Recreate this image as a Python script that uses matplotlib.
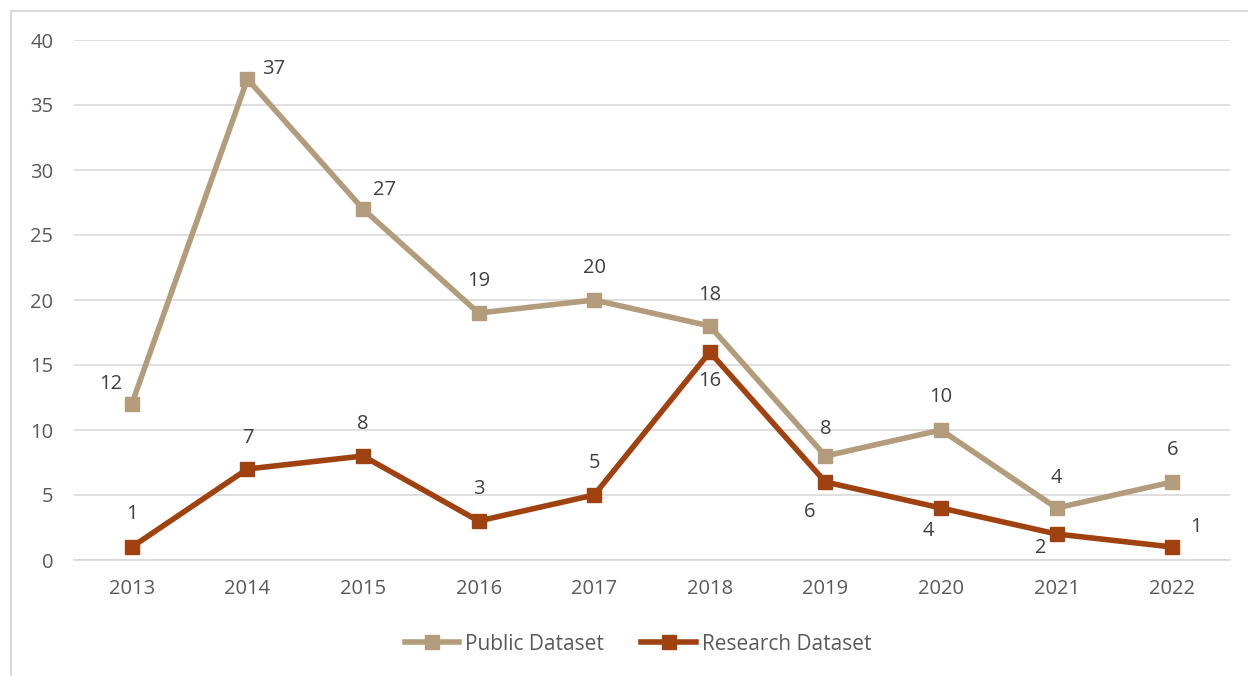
import matplotlib
matplotlib.use("Agg")
import matplotlib.pyplot as plt
from matplotlib.lines import Line2D

years = ["2013", "2014", "2015", "2016", "2017", "2018", "2019", "2020", "2021", "2022"]
public = [12, 37, 27, 19, 20, 18, 8, 10, 4, 6]
research = [1, 7, 8, 3, 5, 16, 6, 4, 2, 1]

# label offsets in pixels (dx, dy) per point
public_off = [(-21, 20), (26, 10), (22, 19), (0, 32), (0, 32), (0, 31), (0, 27), (0, 33), (0, 30), (0, 32)]
research_off = [(0, 33), (0, 31), (0, 32), (0, 32), (0, 32), (0, -29), (-16, -30), (-13, -23), (-16, -14), (24, 20)]

C_PUB = "#B39C7B"
C_RES = "#A0420F"
TXT = "#595959"
FS = 14.5

plt.rcParams["font.family"] = ["Open Sans", "DejaVu Sans"]

fig = plt.figure(figsize=(12.48, 6.76), dpi=100)
ax = fig.add_axes([74 / 1248, 1 - 560 / 676, (1230 - 74) / 1248, 520 / 676])

x = list(range(len(years)))
ax.plot(x, public, color=C_PUB, lw=4, marker="s", ms=10, label="Public Dataset", zorder=3)
ax.plot(x, research, color=C_RES, lw=4, marker="s", ms=10, label="Research Dataset", zorder=3)

for vals, offs in [(public, public_off), (research, research_off)]:
    for xi, v, (dx, dy) in zip(x, vals, offs):
        ax.annotate(str(v), (xi, v), xytext=(dx, dy), textcoords="offset pixels",
                    ha="center", va="center", fontsize=FS, color="#404040")

ax.set_xlim(-0.5, len(years) - 0.5)
ax.set_ylim(0, 40)
ax.set_yticks(range(0, 41, 5))
ax.set_xticks(x)
ax.set_xticklabels(years)
ax.grid(axis="y", color="#D9D9D9", lw=1.2)
ax.set_axisbelow(True)
for s in ["top", "right", "left"]:
    ax.spines[s].set_visible(False)
ax.spines["bottom"].set_color("#D9D9D9")
ax.spines["bottom"].set_linewidth(1.2)
ax.tick_params(axis="both", length=0, labelsize=FS, colors=TXT)
ax.tick_params(axis="y", pad=15)
ax.tick_params(axis="x", pad=14)

leg = fig.legend(loc="center", bbox_to_anchor=(638 / 1248, 1 - 644 / 676), ncol=2, frameon=False,
                 fontsize=15, handlelength=2.6, columnspacing=1.8, handletextpad=0.3)
for t in leg.get_texts():
    t.set_color(TXT)

# chart border (top and left edges)
fig.add_artist(Line2D([11 / 1248, 11 / 1248], [0, 1 - 11 / 676], color="#D9D9D9", lw=1.5))
fig.add_artist(Line2D([11 / 1248, 1], [1 - 11 / 676, 1 - 11 / 676], color="#D9D9D9", lw=1.5))

fig.savefig("out.png", dpi=100)
